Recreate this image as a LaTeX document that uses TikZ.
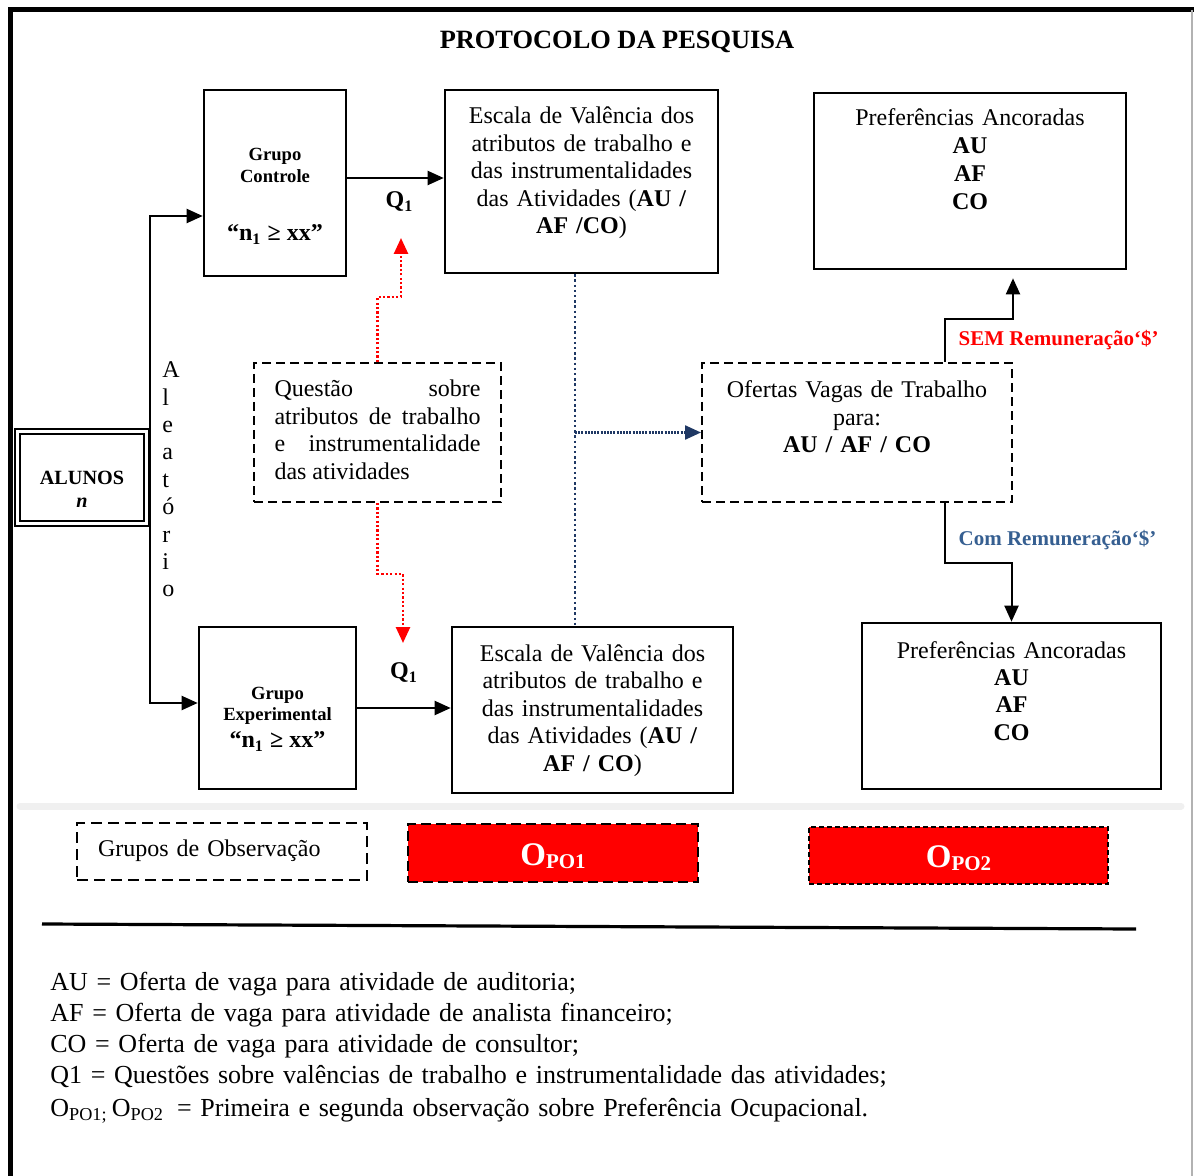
\documentclass[tikz,border=0pt]{standalone}
\usepackage{fontspec}
\setmainfont{Liberation Serif}
\usepackage{xcolor}
\usepackage{tikz}
\usetikzlibrary{arrows.meta}
\usetikzlibrary{positioning}

\definecolor{semred}{RGB}{255,0,0}
\definecolor{comblue}{RGB}{54,95,145}
\definecolor{dotnavy}{RGB}{31,56,100}

\begin{document}
\begin{tikzpicture}[x=0.5pt, y=-0.5pt,
    every node/.style={font=\fontsize{12}{13.75}\selectfont},
    box/.style={rectangle, draw, line width=1.3pt, align=center, inner sep=0pt},
    dashbox/.style={box, line width=1pt, dash pattern=on 4.5pt off 2.5pt},
    obsbox/.style={box, line width=1pt, fill=red, text=white,
      font=\fontsize{16.5}{18}\bfseries\selectfont},
    grupo/.style={box, font=\fontsize{9.3}{11}\bfseries\selectfont},
    edge label/.style={rectangle, draw=none, font=\fontsize{12}{14}\bfseries\selectfont},
    sem label/.style={edge label, font=\fontsize{10.5}{12}\bfseries\selectfont, text=semred},
    com label/.style={edge label, font=\fontsize{10.5}{12}\bfseries\selectfont, text=comblue},
    link/.style={->, line width=1pt},
    reddot/.style={->, red, line width=1.3pt, dash pattern=on 1.1pt off 1.1pt},
    navydot/.style={dotnavy, line width=1.2pt, dash pattern=on 1.2pt off 1.4pt},
  ]
\tikzset{>={Triangle[length=8pt, width=7pt]}}

  \useasboundingbox (0,0) rectangle (1194,1176);
  \draw[line width=2.5pt] (10.5,1176) -- (10.5,10) -- (1194,10);
  \draw[gray!60, line width=0.6pt] (1192,10) -- (1192,1176);

  \node[font=\fontsize{13.2}{15}\bfseries\selectfont] (title) at (617,42) {PROTOCOLO DA PESQUISA};

  % left side
  \node[box, double, double distance=1.4pt, line width=1.1pt, minimum width=64.4pt, text width=60pt,
    text height=26.6pt, text depth=19.3pt, font=\fontsize{10.1}{11.2}\bfseries\selectfont]
    (alunos) at (82,477.5) {ALUNOS\\\textit{n}};
  \node[font=\fontsize{12}{13.7}\selectfont, text width=10pt, align=left, anchor=west, inner sep=0pt]
    (aleat) at (162,479.5) {A\\l\\e\\a\\t\\ó\\r\\i\\o};

  \node[grupo, minimum width=71pt, text width=66pt, text height=35.5pt, text depth=57.5pt]
    (gc) at (275,183) {Grupo\\Controle\\[17.75pt]{\fontsize{12}{11}\selectfont “n\textsubscript{1} ≥ xx”}};
  \node[grupo, minimum width=78.5pt, text width=74pt, text height=36pt, text depth=45pt,
    font=\fontsize{9.3}{10.5}\bfseries\selectfont]
    (ge) at (277.5,708) {Grupo\\Experimental\\[3.25pt]{\fontsize{12}{11}\selectfont “n\textsubscript{1} ≥ xx”}};

  % scales and preferences
  \node[box, minimum width=136.5pt, text width=130pt, text height=17pt, text depth=74.5pt]
    (escTop) at (581.5,181.5) {Escala de Valência dos\\atributos de trabalho e\\das instrumentalidades\\das Atividades (\textbf{AU /}\\\textbf{AF /CO})};
  \node[box, minimum width=140.5pt, text width=134pt, text height=17pt, text depth=66pt]
    (escBot) at (592.5,710) {Escala de Valência dos\\atributos de trabalho e\\das instrumentalidades\\das Atividades (\textbf{AU /}\\\textbf{AF / CO})};

  \node[box, minimum width=156pt, text width=150pt, text height=16.5pt, text depth=71.5pt,
    font=\fontsize{12}{14}\selectfont]
    (prefTop) at (970,181) {Preferências Ancoradas\\\textbf{AU}\\\textbf{AF}\\\textbf{CO}};
  \node[box, minimum width=149.5pt, text width=144pt, text height=17.5pt, text depth=65.5pt,
    font=\fontsize{12}{13.7}\selectfont]
    (prefBot) at (1011.5,706) {Preferências Ancoradas\\\textbf{AU}\\\textbf{AF}\\\textbf{CO}};

  \node[dashbox, minimum width=123.5pt, text width=103pt, text height=17pt, text depth=52.5pt, align=justify]
    (quest) at (377.5,432.5) {Questão sobre\linebreak atributos de trabalho\linebreak e instrumentalidade\linebreak das atividades};
  \node[dashbox, minimum width=155pt, text width=150pt, text height=17.5pt, text depth=52pt]
    (ofertas) at (857,432.5) {Ofertas Vagas de Trabalho\\para:\\\textbf{AU / AF / CO}};

  % observation row
  \draw[gray!12, line width=3.5pt, line cap=round] (20,806) -- (1181,806);
  \node[dashbox, dash pattern=on 5.5pt off 3pt, minimum width=145pt, text width=124pt, align=left,
    text height=16.5pt, text depth=12pt]
    (obs) at (222,851.5) {Grupos de Observação};
  \node[obsbox, dash pattern=on 5pt off 2.5pt, minimum width=145pt, text width=140pt,
    text height=20.5pt, text depth=8.5pt]
    (opo1) at (553,853) {O\raisebox{-1.5pt}{\fontsize{10.5}{12}\selectfont PO1}};
  \node[obsbox, dash pattern=on 2.5pt off 1.5pt, minimum width=149.5pt, text width=144pt,
    text height=20pt, text depth=8.5pt]
    (opo2) at (958.5,855.5) {O\raisebox{-1.5pt}{\fontsize{10.5}{12}\selectfont PO2}};

  % legend
  \draw[line width=1.6pt] (42,924) -- (1136,929);
  \node[anchor=north west, inner sep=0pt, text width=560pt, align=left, text height=9pt,
    font=\fontsize{13}{15.5}\selectfont]
    (legend) at (50,972) {AU = Oferta de vaga para atividade de auditoria;\\
      AF = Oferta de vaga para atividade de analista financeiro;\\
      CO = Oferta de vaga para atividade de consultor;\\
      Q1 = Questões sobre valências de trabalho e instrumentalidade das atividades;\\[1pt]
      O\textsubscript{PO1;}\,O\textsubscript{PO2}\enspace= Primeira e segunda observação sobre Preferência Ocupacional.};

  % connectors
  \coordinate (bus) at (575,0);
  \coordinate (tap) at (945,0);
  \coordinate (qTop) at (401,238);
  \coordinate (qBot) at (403,643);

  \draw[link] ([xshift=1.2pt]alunos.east) |- ([yshift=-16.5pt]gc.west);
  \draw[link] ([xshift=1.2pt]alunos.east) |- ([yshift=2.5pt]ge.west);

  \draw[link] ([yshift=2.5pt]gc.east) -- node[edge label, below=3pt, xshift=2pt] {Q\textsubscript{1}} ([yshift=2.5pt]gc.east -| escTop.west);
  \draw[link] (ge.east) -- node[edge label, above=9pt] {Q\textsubscript{1}} (ge.east -| escBot.west);

  \draw[reddot] (quest.north) -- ++(0,-65) -| (qTop);
  \draw[reddot] (quest.south) -- ++(0,71) -| (qBot);

  \draw[navydot] (escTop.south -| bus) -- (escBot.north -| bus);
  \draw[navydot, ->, dash pattern=on 1pt off 0.6pt] (bus |- ofertas.west) -- (ofertas.west);

  \draw[link, shorten >=4pt] (ofertas.north -| tap) -- node[sem label, right=3pt] {SEM Remuneração‘\$’} ++(0,-43) -| (prefTop.south -| ofertas.east);
  \draw[link] (ofertas.south -| tap) -- node[com label, right=3pt, yshift=-3.5pt] {Com Remuneração‘\$’} ++(0,60) -| (prefBot.north);

\end{tikzpicture}
\end{document}
